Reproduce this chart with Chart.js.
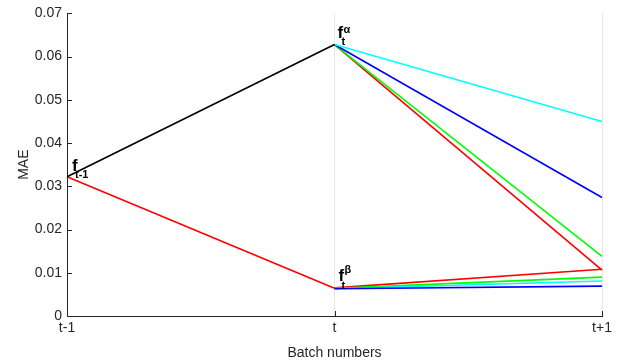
<!DOCTYPE html>
<html lang="en">
<head>
  <meta charset="UTF-8">
  <script src="https://cdn.jsdelivr.net/npm/chart.js@4.4.0/dist/chart.umd.min.js"></script>
  <title>MAE by batch</title>
  <style>
    body { margin: 0; background: #fff; }
    #wrap { width: 621px; height: 363px; }
  </style>
</head>
<body>
  <div id="wrap"><canvas id="chart" width="621" height="363"></canvas></div>

  <script>
    // data
    const batches = ['t-1', 't', 't+1'];
    const yTicks = [0, 0.01, 0.02, 0.03, 0.04, 0.05, 0.06, 0.07];

    const blackPath = [0.0322, 0.0628, null];
    const redPath = [0.0322, 0.0064, null];
    const alphaCyan = [null, 0.0628, 0.0450];
    const alphaBlue = [null, 0.0628, 0.0274];
    const alphaGreen = [null, 0.0628, 0.0138];
    const alphaRed = [null, 0.0628, 0.0106];
    const betaBlue = [null, 0.0063, 0.0069];
    const betaCyan = [null, 0.0063, 0.0081];
    const betaGreen = [null, 0.0064, 0.0090];
    const betaRed = [null, 0.0065, 0.0108];

    const textColor = '#262626';
    const font = 'Liberation Sans, Arial, sans-serif';

    function line(data, color) {
      return {
        data: data,
        borderColor: color,
        borderWidth: 1.6,
        pointRadius: 0,
        fill: false,
        tension: 0,
        spanGaps: false
      };
    }

    // f labels at the nodes + inward tick marks, like the original figure
    const decorations = {
      id: 'decorations',
      afterDatasetsDraw(chart) {
        const ctx = chart.ctx;
        const x = chart.scales.x;
        const y = chart.scales.y;
        const area = chart.chartArea;
        ctx.save();

        // inward ticks
        ctx.strokeStyle = textColor;
        ctx.lineWidth = 1;
        ctx.beginPath();
        yTicks.forEach(v => {
          const py = Math.round(y.getPixelForValue(v)) + 0.5;
          ctx.moveTo(area.left, py);
          ctx.lineTo(area.left + 5, py);
        });
        [1, 2].forEach(i => {
          const px = Math.round(x.getPixelForValue(i)) + 0.5;
          ctx.moveTo(px, area.bottom);
          ctx.lineTo(px, area.bottom - 5);
        });
        ctx.stroke();

        ctx.fillStyle = '#000';
        ctx.textBaseline = 'alphabetic';
        ctx.textAlign = 'left';
        const big = 'bold 17px ' + font;
        const small = 'bold 11px ' + font;

        // f_{t-1}
        let px = x.getPixelForValue(0);
        let py = y.getPixelForValue(blackPath[0]);
        ctx.font = big;
        ctx.fillText('f', px + 5, py - 6);
        ctx.font = small;
        ctx.fillText('t-1', px + 8, py + 1);

        // f^alpha_t
        px = x.getPixelForValue(1);
        py = y.getPixelForValue(blackPath[1]);
        ctx.font = big;
        ctx.fillText('f', px + 3, py - 7);
        ctx.font = small;
        ctx.fillText('α', px + 9, py - 12);
        ctx.fillText('t', px + 7, py + 0);

        // f^beta_t
        py = y.getPixelForValue(redPath[1]);
        ctx.font = big;
        ctx.fillText('f', px + 4, py - 7);
        ctx.font = small;
        ctx.fillText('β', px + 10, py - 15);
        ctx.fillText('t', px + 7, py + 1);

        ctx.restore();
      }
    };

    const chart = new Chart(document.getElementById('chart'), {
      type: 'line',
      data: {
        labels: batches,
        datasets: [
          line(blackPath, '#000000'),
          line(redPath, '#ff0000'),
          line(alphaCyan, '#00ffff'),
          line(alphaBlue, '#0000ff'),
          line(alphaGreen, '#00ff00'),
          line(alphaRed, '#ff0000'),
          line(betaBlue, '#0000ff'),
          line(betaCyan, '#00ffff'),
          line(betaGreen, '#00ff00'),
          line(betaRed, '#ff0000')
        ]
      },
      options: {
        responsive: false,
        animation: false,
        layout: { padding: { top: 11, right: 19, left: 0, bottom: 0 } },
        plugins: { legend: { display: false }, tooltip: { enabled: false } },
        scales: {
          x: {
            offset: false,
            grid: { color: '#e6e6e6', lineWidth: 1, tickLength: 0 },
            border: { display: true, color: textColor, width: 1 },
            ticks: { color: textColor, font: { family: font, size: 14 }, padding: 4, maxRotation: 0 },
            title: {
              display: true, text: 'Batch numbers', color: textColor,
              font: { family: font, size: 14 }, padding: { top: 0, bottom: 1 }
            },
            afterFit(scale) { scale.height = 47; }
          },
          y: {
            min: 0,
            max: 0.07,
            afterBuildTicks(scale) { scale.ticks = yTicks.map(v => ({ value: v })); },
            grid: { display: false, drawTicks: false },
            border: { display: true, color: textColor, width: 1 },
            ticks: {
              color: textColor, font: { family: font, size: 14 }, padding: 5,
              callback: v => (v === 0 ? '0' : v.toFixed(2))
            },
            title: {
              display: true, text: 'MAE', color: textColor,
              font: { family: font, size: 14 }, padding: { top: 16, bottom: 0 }
            },
            afterFit(scale) { scale.width = 67; }
          }
        }
      },
      plugins: [decorations]
    });
  </script>
</body>
</html>
